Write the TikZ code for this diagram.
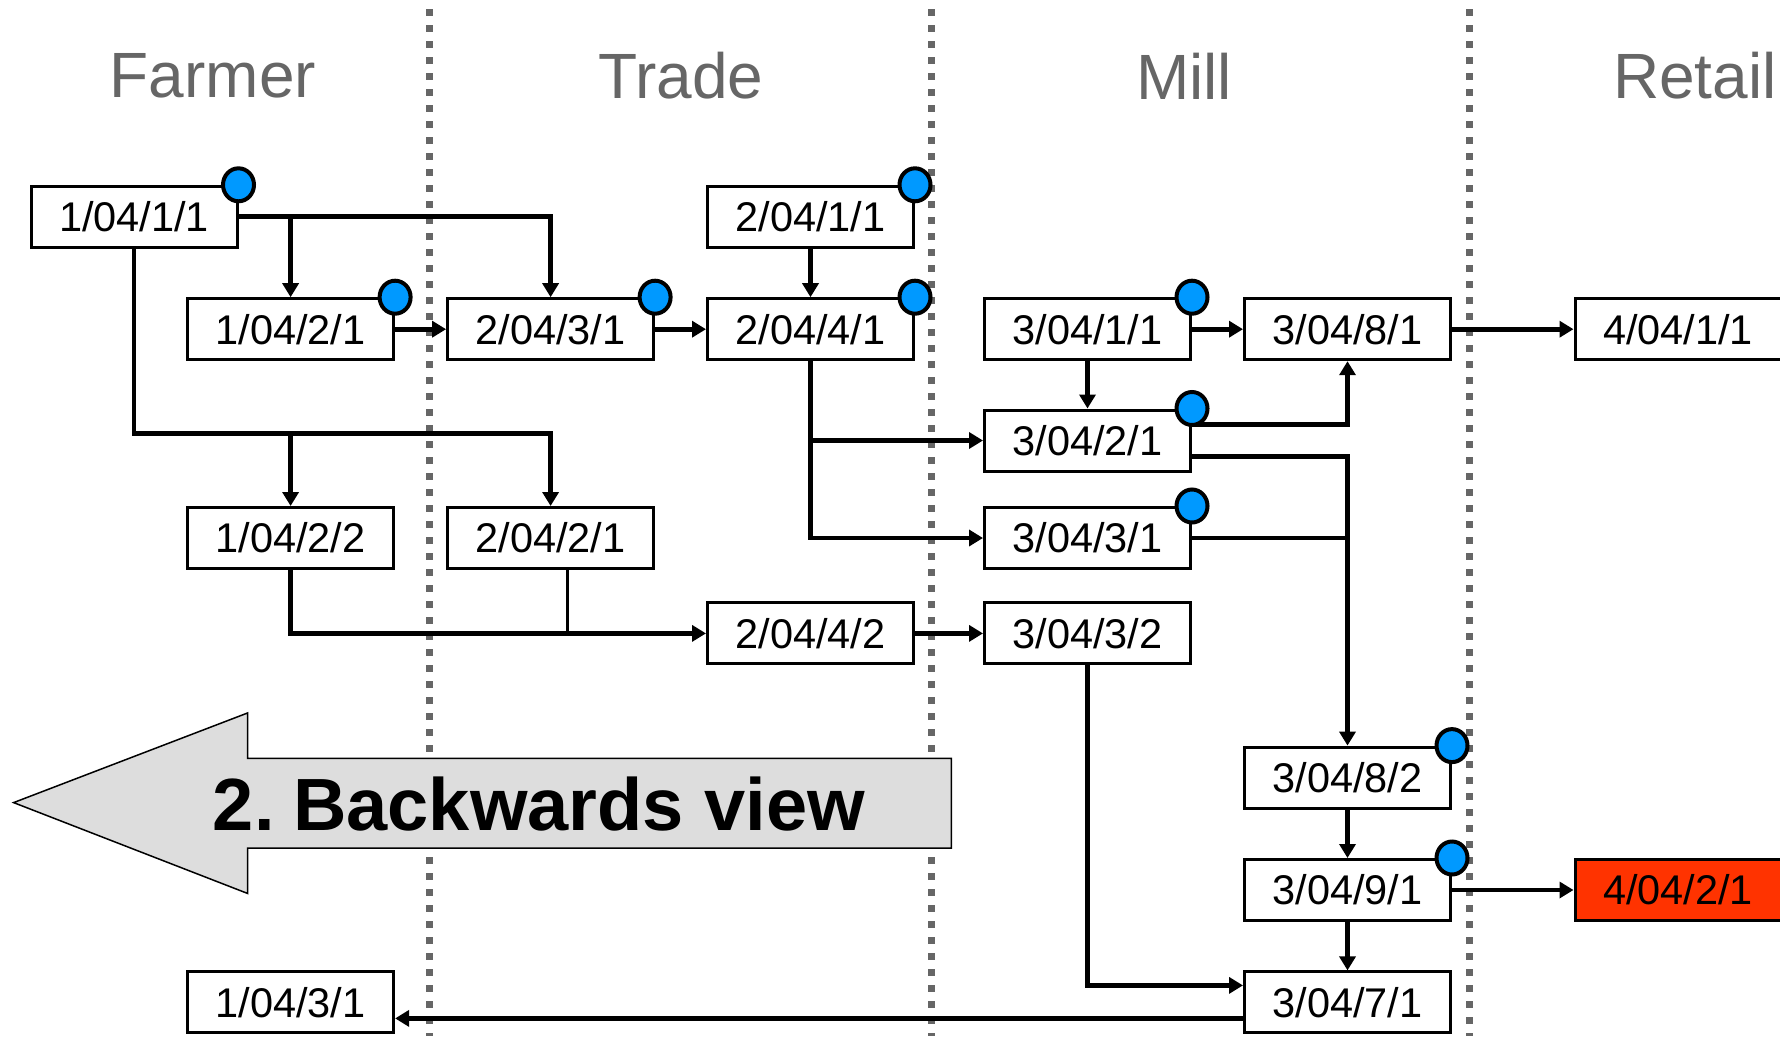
\documentclass[tikz,border=0pt]{standalone}
\usepackage{fontspec}
\setmainfont{Liberation Sans}
\usetikzlibrary{arrows.meta}

\definecolor{tagblue}{HTML}{0099FF}
\definecolor{alertred}{HTML}{FF3300}
\definecolor{headgray}{HTML}{666666}
\definecolor{arrowgray}{HTML}{DDDDDD}

\begin{document}
\begin{tikzpicture}[x=1pt, y=-1pt,
    lot/.style={draw, line width=3pt, fill=white, minimum width=206pt, minimum height=61pt, inner sep=0pt, font=\fontsize{41.5}{48}\selectfont},
    flow/.style={line width=4.8pt, -{Triangle[length=14pt,width=16pt]}},
    bond/.style={line width=4.8pt},
    divider/.style={headgray, line width=7pt, dash pattern=on 7pt off 9pt},
    tagdot/.style={draw, line width=4pt, fill=tagblue},
    sector/.style={headgray, font=\fontsize{64}{70}\selectfont}]
    \useasboundingbox (0,0) rectangle (1780,1036);
    \clip (0,0) rectangle (1780,1036);

    % stage borders
    \foreach \x in {429,931,1469} {
      \draw[divider] (\x,9) -- (\x,1036);
    }

    % stage names
    \node[sector] (farmer) at (213,76) {Farmer};
    \node[sector] (trade) at (681,76) {Trade};
    \node[sector] (mill) at (1184,76) {Mill};
    \node[sector] (retail) at (1695,76) {Retail};

    % lots
    \node[lot] (f11) at (134,216.8) {1/04/1/1};
    \node[lot] (f21) at (290.6,329.2) {1/04/2/1};
    \node[lot] (f22) at (290.6,538) {1/04/2/2};
    \node[lot] (f31) at (290.6,1002.4) {1/04/3/1};
    \node[lot] (t11) at (810.5,216.8) {2/04/1/1};
    \node[lot] (t31) at (550.6,329.2) {2/04/3/1};
    \node[lot] (t41) at (810.5,329.2) {2/04/4/1};
    \node[lot] (t21) at (550.6,538) {2/04/2/1};
    \node[lot] (t42) at (810.5,633.4) {2/04/4/2};
    \node[lot] (m11) at (1087.5,329.2) {3/04/1/1};
    \node[lot] (m81) at (1347.5,329.2) {3/04/8/1};
    \node[lot] (m21) at (1087.5,440.5) {3/04/2/1};
    \node[lot] (m31) at (1087.5,538) {3/04/3/1};
    \node[lot] (m32) at (1087.5,633.4) {3/04/3/2};
    \node[lot] (m82) at (1347.5,777.6) {3/04/8/2};
    \node[lot] (m91) at (1347.5,890) {3/04/9/1};
    \node[lot] (m71) at (1347.5,1002.4) {3/04/7/1};
    \node[lot] (r11) at (1678,329.2) {4/04/1/1};
    \node[lot, fill=alertred] (r21) at (1678,890) {4/04/2/1};

    % farmer to trade
    \coordinate (fork) at (134,433.6);
    \draw[flow] (f11.east) -| (t31.north);
    \draw[flow] (f21.north |- f11.east) -- (f21.north);
    \draw[flow] (f11.south) -- (fork) -| (t21.north);
    \draw[flow] (f22.north |- fork) -- (f22.north);
    \draw[flow] (f21.east) -- (t31.west);
    \draw[flow] (f22.south) |- (t42.west);
    \draw[bond, line width=3.4pt] ([xshift=17pt]t21.south) -- ([xshift=17pt]t21.south |- t42.west);

    % trade to mill
    \draw[flow] (t31.east) -- (t41.west);
    \draw[flow] (t11.south) -- (t41.north);
    \draw[flow] (t41.south) |- (m31.west);
    \draw[flow] (t41.south |- m21.west) -- (m21.west);
    \draw[flow] (t42.east) -- (m32.west);

    % mill
    \draw[flow] (m11.east) -- (m81.west);
    \draw[flow] (m11.south) -- (m21.north);
    \draw[flow] ([yshift=-16pt]m21.north east) -| (m81.south);
    \draw[flow] ([yshift=-16pt]m21.east) -| (m82.north);
    \draw[bond] (m31.east) -- (m82.north |- m31.east);
    \draw[flow] (m82.south) -- (m91.north);
    \draw[flow] (m91.south) -- (m71.north);
    \draw[flow] (m32.south) |- ([yshift=17pt]m71.west);

    % to retail and back
    \draw[flow] (m81.east) -- (r11.west);
    \draw[flow, line width=3.4pt] (m91.east) -- (r21.west);
    \draw[flow] ([yshift=-16pt]m71.west) -- ([yshift=-16pt]f31.east);

    % tagged lots
    \foreach \n in {f11,f21,t31,t11,t41,m11,m21,m31,m82,m91} {
      \draw[tagdot] (\n.north east) ellipse [x radius=15.5, y radius=16.5];
    }

    % direction
    \draw[fill=arrowgray, line width=1.5pt] (13.6,802.6) -- (247.5,713) -- (247.5,758.3) -- (951.3,758.3)
      -- (951.3,848) -- (247.5,848) -- (247.5,893.4) -- cycle;
    \node[font=\bfseries\fontsize{74}{80}\selectfont] (view) at (539,803.7) {2.\hspace{-0.12em} Backwards view};
  \end{tikzpicture}
\end{document}
